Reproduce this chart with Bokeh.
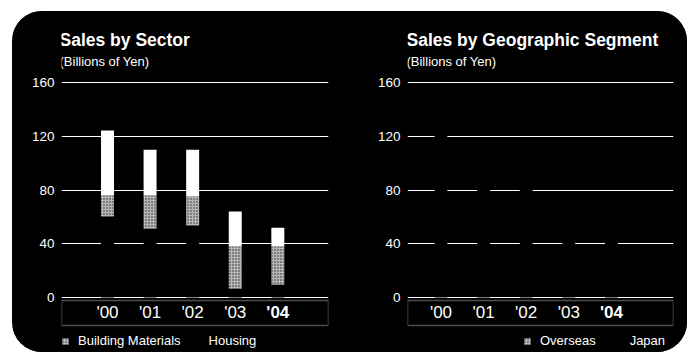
from bokeh.plotting import figure
from bokeh.models import (ColumnDataSource, FixedTicker, BoxAnnotation, Label,
                          Legend, LegendItem, Range1d)
from bokeh.layouts import row
from bokeh.core.properties import value
from bokeh.embed import file_html
from bokeh.resources import INLINE

# ---------------- data ----------------
years = ["'00", "'01", "'02", "'03", "'04"]
year_styles = ["normal", "normal", "normal", "normal", "bold"]
y_ticks = [0, 40, 80, 120, 160]

# Sales by Sector (billions of yen)
housing = [60.3, 51.1, 53.6, 6.5, 9.5]
building_materials = [64.0, 58.8, 56.3, 57.5, 42.4]
# part of the building-materials bar printed as halftone (lower part)
building_materials_halftone = [15.6, 24.8, 21.6, 31.5, 28.5]

# Sales by Geographic Segment (billions of yen)
japan = [120.5, 106.7, 106.9, 61.6, 49.8]
overseas = [3.8, 3.2, 3.0, 2.4, 2.1]

FONT = "Liberation Sans"
WHITE = "#ffffff"
STIPPLE = dict(fill_color="#b8b8b8", hatch_pattern="dot", hatch_color="#000000",
               hatch_scale=3, hatch_weight=1, hatch_alpha=0.8, line_color=None)


def base_fig(width, x_start, x_end, border_left, border_right):
    p = figure(width=width, height=341, output_backend="svg", toolbar_location=None,
               x_range=Range1d(x_start, x_end), y_range=Range1d(-40.93, 212.84),
               min_border_left=border_left, min_border_right=border_right,
               min_border_top=0, min_border_bottom=0,
               background_fill_color="black", border_fill_color="black",
               outline_line_color=None)
    p.xaxis.visible = False
    p.xgrid.visible = False
    p.yaxis.ticker = FixedTicker(ticks=y_ticks)
    p.ygrid.ticker = FixedTicker(ticks=y_ticks)
    p.ygrid.grid_line_color = WHITE
    p.ygrid.grid_line_width = 1.2
    p.yaxis.axis_line_color = None
    p.yaxis.major_tick_line_color = None
    p.yaxis.minor_tick_line_color = None
    p.yaxis.major_tick_out = 0
    p.yaxis.major_label_standoff = 7
    p.yaxis.major_label_text_color = WHITE
    p.yaxis.major_label_text_font = FONT
    p.yaxis.major_label_text_font_size = "13.5px"
    # box holding the year labels
    p.add_layout(BoxAnnotation(bottom=-20.84, top=-2.23, fill_alpha=0,
                               line_color=WHITE, line_width=1.5, level="overlay"))
    return p


def add_years(p):
    src = ColumnDataSource(dict(x=list(range(len(years))), t=years, s=year_styles))
    p.text(x="x", y=-11.4, text="t", source=src, text_font=value(FONT),
           text_font_size="17px", text_font_style="s", text_color=WHITE,
           text_align="center", text_baseline="middle")


def add_titles(p, x, title):
    p.add_layout(Label(x=x, y=191.6, text=title, text_color=WHITE,
                       text_font=FONT, text_font_style="bold",
                       text_font_size="17.5px", text_baseline="alphabetic"))
    p.add_layout(Label(x=x, y=175.5, text="(Billions of Yen)", text_color=WHITE,
                       text_font=FONT, text_font_size="13px",
                       text_baseline="alphabetic"))


def make_legend(p, items, loc, spacing):
    leg = Legend(items=items, orientation="horizontal", location=loc,
                 background_fill_alpha=0, border_line_color=None, padding=0, margin=0,
                 glyph_width=8, glyph_height=8, label_standoff=9, spacing=spacing,
                 label_text_color=WHITE, label_text_font=FONT,
                 label_text_font_size="13px", label_height=14,
                 inactive_fill_alpha=0)
    p.add_layout(leg)


# ---------------- left panel ----------------
n = len(years)
xs = list(range(n))
hm_top = [housing[i] + building_materials_halftone[i] for i in range(n)]
tot = [housing[i] + building_materials[i] for i in range(n)]
sec = ColumnDataSource(dict(x=xs, h=housing, hm=hm_top, tot=tot, zero=[0] * n))

p1 = base_fig(335, -1.08, 5.19, 49, 19)
r_h = p1.vbar(x="x", bottom="zero", top="h", width=0.305, source=sec,
              fill_color="black", line_color=None)
r_bm = p1.vbar(x="x", bottom="h", top="hm", width=0.305, source=sec, **STIPPLE)
p1.vbar(x="x", bottom="hm", top="tot", width=0.305, source=sec,
        fill_color=WHITE, line_color=None)
add_years(p1)
add_titles(p1, -1.127, "Sales by Sector")
make_legend(p1, [LegendItem(label="Building Materials", renderers=[r_bm]),
                 LegendItem(label="Housing", renderers=[r_h])], (0, 4), 11)

# ---------------- right panel ----------------
jtop = [japan[i] + overseas[i] for i in range(n)]
geo = ColumnDataSource(dict(x=xs, j=japan, jt=jtop, zero=[0] * n))

p2 = base_fig(340, -0.786, 5.458, 60, 14)
r_j = p2.vbar(x="x", bottom="zero", top="j", width=0.3, source=geo,
              fill_color="black", line_color=None)
# overseas segments come out black in the printed chart
p2.vbar(x="x", bottom="j", top="jt", width=0.3, source=geo,
        fill_color="black", line_color=None)
# stippled overseas style, only used for the legend swatch
r_o_key = p2.vbar(x="x", bottom="j", top="jt", width=0.3, source=geo,
                  visible=False, **STIPPLE)
add_years(p2)
add_titles(p2, -0.81, "Sales by Geographic Segment")
make_legend(p2, [LegendItem(label="Overseas", renderers=[r_o_key]),
                 LegendItem(label="Japan", renderers=[r_j])], (116, 4), 17)

layout = row(p1, p2, margin=(11, 0, 0, 12),
             styles={"background-color": "black", "border-radius": "30px",
                     "overflow": "hidden"})

open("out.html", "w").write(file_html(layout, INLINE))
